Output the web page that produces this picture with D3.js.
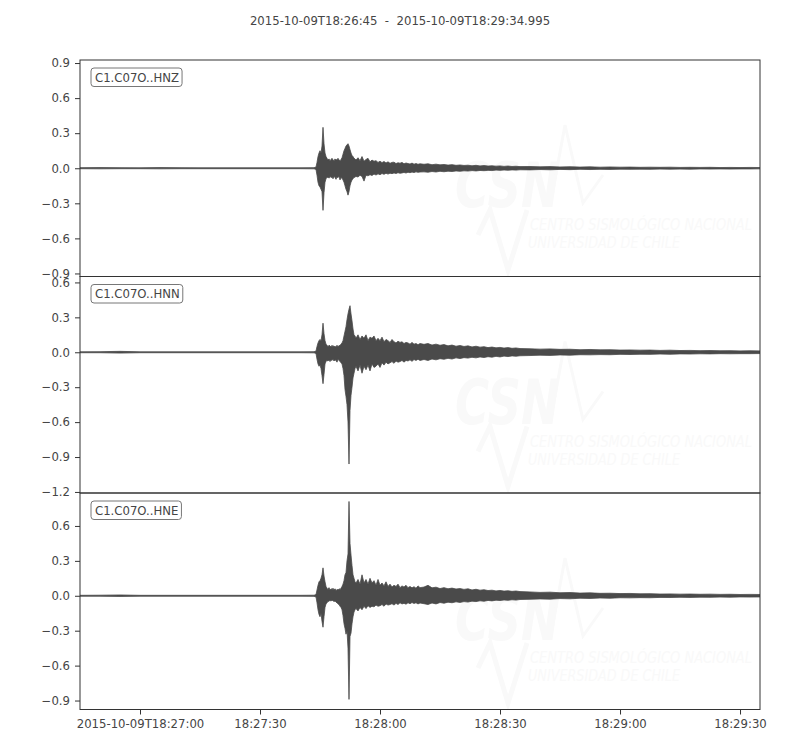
<!DOCTYPE html>
<html>
<head>
<meta charset="utf-8">
<script src="https://cdn.jsdelivr.net/npm/d3@7"></script>
<style>
  body { margin: 0; background: #fff; }
  svg text { font-family: "DejaVu Sans", sans-serif; }
</style>
</head>
<body>
<svg id="chart" width="800" height="750"></svg>
<script>
// ---------------- DATA ----------------
const titleText = "2015-10-09T18:26:45  -  2015-10-09T18:29:34.995";
const startTime = "2015-10-09T18:26:45Z";
const endTime = "2015-10-09T18:29:34.995Z";
const channels = ["C1.C07O..HNZ", "C1.C07O..HNN", "C1.C07O..HNE"];
const yDomains = [[-0.926, 0.926], [-1.209, 0.651], [-0.977, 0.883]];
const yTicks = [
  [-0.9, -0.6, -0.3, 0.0, 0.3, 0.6, 0.9],
  [-1.2, -0.9, -0.6, -0.3, 0.0, 0.3, 0.6],
  [-0.9, -0.6, -0.3, 0.0, 0.3, 0.6]
];
const xTickTimes = ["2015-10-09T18:27:00Z", "2015-10-09T18:27:30Z", "2015-10-09T18:28:00Z",
                    "2015-10-09T18:28:30Z", "2015-10-09T18:29:00Z", "2015-10-09T18:29:30Z"];
const xTickLabels = ["2015-10-09T18:27:00", "18:27:30", "18:28:00", "18:28:30", "18:29:00", "18:29:30"];

// envelope sample times (seconds after start)
const envTime = [
  0, 5, 10, 15, 20, 25, 30, 35, 40, 45, 50, 55, 58.5, 59,
  59.25, 59.5, 59.75, 60, 60.25, 60.5, 60.75, 61, 61.25, 61.5, 61.75, 62, 62.25, 62.5, 62.75, 63, 63.25, 63.5, 63.75, 64,
  64.25, 64.5, 64.75, 65, 65.25, 65.5, 65.75, 66, 66.25, 66.5, 66.75, 67, 67.25, 67.5, 67.75, 68, 68.25, 68.5, 68.75, 69,
  69.5, 70, 70.5, 71, 71.5, 72, 72.5, 73, 73.5, 74, 74.5, 75, 75.5, 76, 76.5, 77, 77.5, 78, 78.5, 79, 79.5, 80,
  80.5, 81, 81.5, 82, 82.5, 83, 83.5, 84, 84.5, 85,
  86, 87, 88, 89, 90, 91, 92, 93, 94, 95, 96, 97, 98, 99, 100, 101, 102, 103, 104, 105, 106, 107, 108, 109, 110,
  112.5, 115, 117.5, 120, 122.5, 125, 127.5, 130, 132.5, 135, 137.5, 140, 142.5, 145, 147.5, 150, 152.5, 155, 157.5,
  160, 162.5, 165, 167.5, 170];

const hnzUpper = [
  0.005, 0.006, 0.005, 0.004, 0.006, 0.005, 0.004, 0.004, 0.004, 0.004, 0.004, 0.004, 0.005, 0.01,
  0.05, 0.10, 0.13, 0.15, 0.13, 0.19, 0.35, 0.21, 0.13, 0.10, 0.085, 0.07, 0.08, 0.065, 0.075, 0.085, 0.07, 0.065, 0.08, 0.07,
  0.075, 0.085, 0.07, 0.065, 0.075, 0.09, 0.12, 0.15, 0.17, 0.19, 0.20, 0.21, 0.19, 0.16, 0.13, 0.11, 0.10, 0.085, 0.08, 0.07,
  0.09, 0.065, 0.10, 0.06, 0.075, 0.085, 0.055, 0.07, 0.06, 0.065, 0.05, 0.06, 0.048, 0.058, 0.045, 0.055, 0.042, 0.05, 0.052, 0.04, 0.047, 0.043,
  0.05, 0.038, 0.045, 0.04, 0.036, 0.044, 0.035, 0.04, 0.034, 0.038,
  0.034, 0.038, 0.03, 0.035, 0.029, 0.032, 0.027, 0.031, 0.025, 0.028, 0.024, 0.026, 0.021, 0.025, 0.02, 0.023, 0.019, 0.021, 0.018, 0.02, 0.016, 0.019, 0.015, 0.017, 0.014,
  0.015, 0.012, 0.014, 0.011, 0.013, 0.01, 0.012, 0.009, 0.011, 0.009, 0.01, 0.008, 0.009, 0.008, 0.009, 0.007, 0.008, 0.007, 0.008,
  0.006, 0.007, 0.006, 0.007, 0.006];
const hnzLower = [
  -0.004, -0.005, -0.004, -0.004, -0.005, -0.004, -0.004, -0.004, -0.004, -0.004, -0.004, -0.004, -0.005, -0.01,
  -0.06, -0.12, -0.15, -0.16, -0.18, -0.20, -0.36, -0.21, -0.12, -0.09, -0.08, -0.075, -0.085, -0.07, -0.08, -0.075, -0.09, -0.07, -0.08, -0.095,
  -0.075, -0.08, -0.07, -0.10, -0.08, -0.085, -0.10, -0.12, -0.15, -0.18, -0.20, -0.23, -0.20, -0.15, -0.12, -0.10, -0.09, -0.08, -0.075, -0.07,
  -0.075, -0.06, -0.07, -0.11, -0.06, -0.065, -0.055, -0.062, -0.05, -0.058, -0.048, -0.055, -0.045, -0.052, -0.043, -0.05, -0.042, -0.046, -0.04, -0.045, -0.038, -0.043,
  -0.04, -0.036, -0.041, -0.034, -0.038, -0.033, -0.037, -0.031, -0.035, -0.032,
  -0.031, -0.034, -0.028, -0.032, -0.026, -0.03, -0.025, -0.028, -0.023, -0.026, -0.022, -0.024, -0.02, -0.023, -0.019, -0.021, -0.018, -0.02, -0.016, -0.018, -0.015, -0.017, -0.014, -0.016, -0.013,
  -0.014, -0.011, -0.013, -0.01, -0.012, -0.009, -0.011, -0.009, -0.01, -0.008, -0.009, -0.008, -0.009, -0.007, -0.008, -0.007, -0.008, -0.006, -0.007,
  -0.006, -0.007, -0.006, -0.006, -0.005];

const hnnUpper = [
  0.004, 0.005, 0.008, 0.004, 0.004, 0.004, 0.004, 0.004, 0.004, 0.004, 0.004, 0.004, 0.005, 0.01,
  0.05, 0.08, 0.10, 0.11, 0.10, 0.15, 0.25, 0.16, 0.10, 0.07, 0.06, 0.05, 0.06, 0.055, 0.045, 0.06, 0.05, 0.055, 0.045, 0.05,
  0.06, 0.05, 0.055, 0.06, 0.07, 0.08, 0.10, 0.14, 0.18, 0.22, 0.28, 0.33, 0.37, 0.40, 0.33, 0.27, 0.20, 0.15, 0.14, 0.12,
  0.15, 0.11, 0.14, 0.12, 0.15, 0.10, 0.13, 0.12, 0.14, 0.10, 0.12, 0.10, 0.13, 0.09, 0.11, 0.10, 0.085, 0.11, 0.09, 0.08, 0.095, 0.085,
  0.09, 0.075, 0.085, 0.08, 0.07, 0.085, 0.07, 0.075, 0.065, 0.075,
  0.068, 0.075, 0.062, 0.07, 0.06, 0.066, 0.055, 0.062, 0.052, 0.058, 0.05, 0.055, 0.046, 0.052, 0.044, 0.048, 0.04, 0.045, 0.038, 0.042, 0.036, 0.04, 0.034, 0.037, 0.032,
  0.03, 0.027, 0.029, 0.025, 0.026, 0.022, 0.024, 0.021, 0.022, 0.019, 0.02, 0.018, 0.019, 0.016, 0.018, 0.015, 0.016, 0.014, 0.015,
  0.013, 0.014, 0.012, 0.013, 0.012];
const hnnLower = [
  -0.004, -0.004, -0.007, -0.004, -0.004, -0.004, -0.004, -0.004, -0.004, -0.004, -0.004, -0.004, -0.005, -0.01,
  -0.06, -0.10, -0.12, -0.11, -0.14, -0.20, -0.27, -0.19, -0.10, -0.08, -0.07, -0.075, -0.065, -0.08, -0.065, -0.07, -0.06, -0.075, -0.065, -0.07,
  -0.085, -0.06, -0.07, -0.08, -0.09, -0.10, -0.14, -0.20, -0.32, -0.38, -0.45, -0.60, -0.96, -0.50, -0.37, -0.30, -0.22, -0.18, -0.14, -0.12,
  -0.16, -0.11, -0.18, -0.12, -0.15, -0.11, -0.16, -0.10, -0.13, -0.12, -0.10, -0.13, -0.09, -0.11, -0.085, -0.10, -0.09, -0.08, -0.095, -0.075, -0.085, -0.08,
  -0.07, -0.085, -0.07, -0.075, -0.065, -0.078, -0.062, -0.07, -0.06, -0.07,
  -0.062, -0.07, -0.058, -0.065, -0.055, -0.06, -0.052, -0.058, -0.048, -0.054, -0.046, -0.05, -0.043, -0.048, -0.04, -0.045, -0.038, -0.042, -0.035, -0.04, -0.033, -0.037, -0.031, -0.034, -0.03,
  -0.028, -0.025, -0.027, -0.023, -0.025, -0.021, -0.022, -0.02, -0.021, -0.018, -0.019, -0.017, -0.018, -0.015, -0.017, -0.014, -0.015, -0.013, -0.014,
  -0.012, -0.013, -0.012, -0.012, -0.011];

const hneUpper = [
  0.004, 0.005, 0.007, 0.004, 0.004, 0.004, 0.004, 0.004, 0.004, 0.004, 0.004, 0.004, 0.005, 0.01,
  0.05, 0.09, 0.12, 0.13, 0.15, 0.18, 0.24, 0.17, 0.12, 0.08, 0.065, 0.055, 0.07, 0.05, 0.06, 0.055, 0.065, 0.05, 0.06, 0.045,
  0.055, 0.05, 0.06, 0.055, 0.065, 0.08, 0.10, 0.13, 0.18, 0.20, 0.30, 0.36, 0.81, 0.45, 0.35, 0.26, 0.18, 0.15, 0.12, 0.11,
  0.14, 0.10, 0.18, 0.11, 0.14, 0.10, 0.15, 0.11, 0.13, 0.09, 0.14, 0.09, 0.11, 0.085, 0.12, 0.08, 0.10, 0.075, 0.09, 0.08, 0.10, 0.07,
  0.085, 0.075, 0.09, 0.07, 0.08, 0.068, 0.078, 0.065, 0.085, 0.07,
  0.075, 0.09, 0.068, 0.074, 0.062, 0.07, 0.06, 0.066, 0.058, 0.062, 0.055, 0.06, 0.05, 0.056, 0.048, 0.052, 0.045, 0.048, 0.042, 0.046, 0.04, 0.043, 0.038, 0.041, 0.036,
  0.033, 0.029, 0.031, 0.026, 0.028, 0.023, 0.025, 0.021, 0.022, 0.019, 0.02, 0.017, 0.018, 0.015, 0.016, 0.014, 0.015, 0.013, 0.014,
  0.012, 0.013, 0.011, 0.012, 0.011];
const hneLower = [
  -0.004, -0.004, -0.006, -0.004, -0.004, -0.004, -0.004, -0.004, -0.004, -0.004, -0.004, -0.004, -0.005, -0.01,
  -0.06, -0.12, -0.16, -0.18, -0.15, -0.22, -0.27, -0.18, -0.10, -0.07, -0.06, -0.05, -0.045, -0.04, -0.045, -0.038, -0.042, -0.05, -0.045, -0.055,
  -0.06, -0.07, -0.075, -0.09, -0.10, -0.12, -0.17, -0.24, -0.28, -0.33, -0.30, -0.45, -0.89, -0.35, -0.32, -0.24, -0.18, -0.14, -0.12, -0.11,
  -0.13, -0.10, -0.12, -0.09, -0.11, -0.085, -0.10, -0.09, -0.095, -0.08, -0.09, -0.085, -0.075, -0.09, -0.07, -0.08, -0.075, -0.068, -0.08, -0.065, -0.075, -0.06,
  -0.07, -0.065, -0.072, -0.06, -0.068, -0.058, -0.066, -0.06, -0.07, -0.062,
  -0.068, -0.075, -0.062, -0.07, -0.058, -0.064, -0.055, -0.06, -0.052, -0.057, -0.05, -0.054, -0.046, -0.05, -0.043, -0.047, -0.04, -0.044, -0.038, -0.041, -0.036, -0.039, -0.034, -0.037, -0.032,
  -0.03, -0.027, -0.029, -0.024, -0.026, -0.021, -0.023, -0.019, -0.021, -0.017, -0.018, -0.016, -0.017, -0.014, -0.015, -0.013, -0.014, -0.012, -0.013,
  -0.011, -0.012, -0.01, -0.011, -0.01];

const uppers = [hnzUpper, hnnUpper, hneUpper];
const lowers = [hnzLower, hnnLower, hneLower];

const watermarkLines = ["CENTRO SISMOLÓGICO NACIONAL", "UNIVERSIDAD DE CHILE"];

// ---------------- LAYOUT ----------------
const W = 800, H = 750;
const left = 80, right = 760;
const panelTops = [60, 276.5, 493];
const panelH = 216.5;
const fs = 11.7;
const textColor = "#454545";
const spineColor = "#333";
const traceColor = "#4a4a4a";
const wmColor = "#f9f9f9";

const svg = d3.select("#chart");
svg.append("rect").attr("width", W).attr("height", H).attr("fill", "#fff");

const t0 = new Date(startTime);
const x = d3.scaleUtc().domain([t0, new Date(endTime)]).range([left, right]);
const toDate = s => new Date(t0.getTime() + s * 1000);

svg.append("text")
  .attr("x", 400).attr("y", 25)
  .attr("text-anchor", "middle")
  .attr("font-size", fs)
  .attr("fill", textColor)
  .style("white-space", "pre")
  .text(titleText);

const defs = svg.append("defs");

channels.forEach((ch, i) => {
  const top = panelTops[i];
  const g = svg.append("g");
  const y = d3.scaleLinear().domain(yDomains[i]).range([top + panelH, top]);

  defs.append("clipPath").attr("id", "clip" + i)
    .append("rect").attr("x", left).attr("y", top).attr("width", right - left).attr("height", panelH);

  // watermark
  const wm = g.append("g").attr("clip-path", `url(#clip${i})`);
  wm.append("text")
    .attr("x", 455).attr("y", top + 147)
    .attr("font-size", 62).attr("font-weight", "bold").attr("font-style", "italic")
    .attr("textLength", 105).attr("lengthAdjust", "spacingAndGlyphs")
    .attr("fill", wmColor)
    .text("CSN");
  wm.append("path")
    .attr("d", `M550,${top + 147} L565,${top + 65} L583,${top + 143} L603,${top + 115}`)
    .attr("fill", "none").attr("stroke", wmColor).attr("stroke-width", 3);
  wm.append("path")
    .attr("d", `M478,${top + 175} L490,${top + 150} L508,${top + 210} L527,${top + 150}`)
    .attr("fill", "none").attr("stroke", wmColor).attr("stroke-width", 5);
  wm.append("text")
    .attr("x", 530).attr("y", top + 170)
    .attr("font-size", 15).attr("font-style", "italic")
    .attr("textLength", 222).attr("lengthAdjust", "spacingAndGlyphs")
    .attr("fill", wmColor)
    .text(watermarkLines[0]);
  wm.append("text")
    .attr("x", 528).attr("y", top + 188)
    .attr("font-size", 15).attr("font-style", "italic")
    .attr("textLength", 152).attr("lengthAdjust", "spacingAndGlyphs")
    .attr("fill", wmColor)
    .text(watermarkLines[1]);

  // trace envelope
  const pts = envTime.map((s, k) => ({ t: toDate(s), hi: uppers[i][k], lo: lowers[i][k] }));
  const area = d3.area()
    .x(d => x(d.t))
    .y0(d => y(d.lo))
    .y1(d => y(d.hi));
  g.append("path")
    .datum(pts)
    .attr("clip-path", `url(#clip${i})`)
    .attr("d", area)
    .attr("fill", traceColor)
    .attr("stroke", traceColor)
    .attr("stroke-width", 0.8)
    .attr("stroke-linejoin", "miter");

  // y axis
  const ya = g.append("g")
    .attr("transform", `translate(${left},0)`)
    .call(d3.axisLeft(y).tickValues(yTicks[i]).tickSize(5).tickPadding(5).tickFormat(d3.format(".1f")));
  ya.select(".domain").remove();
  ya.selectAll("line").attr("stroke", spineColor);
  ya.selectAll("text").attr("font-size", fs).attr("fill", textColor).attr("font-family", "DejaVu Sans");

  // frame
  g.append("rect")
    .attr("x", left).attr("y", top)
    .attr("width", right - left).attr("height", panelH)
    .attr("fill", "none").attr("stroke", spineColor).attr("stroke-width", 1);

  // channel label box
  const lg = g.append("g");
  const lt = lg.append("text")
    .attr("x", 95).attr("y", top + 21.5)
    .attr("font-size", fs).attr("fill", textColor)
    .text(ch);
  const bb = lt.node().getBBox();
  lg.insert("rect", "text")
    .attr("x", bb.x - 4).attr("y", top + 8)
    .attr("width", bb.width + 7).attr("height", 18.5)
    .attr("rx", 3).attr("ry", 3)
    .attr("fill", "#fff").attr("stroke", "#777").attr("stroke-width", 1);

  if (i === channels.length - 1) {
    const xa = g.append("g")
      .attr("transform", `translate(0,${top + panelH})`)
      .call(d3.axisBottom(x).tickValues(xTickTimes.map(s => new Date(s))).tickSize(5).tickPadding(5)
        .tickFormat((d, k) => xTickLabels[k]));
    xa.select(".domain").remove();
    xa.selectAll("line").attr("stroke", spineColor);
    xa.selectAll("text").attr("font-size", fs).attr("fill", textColor).attr("font-family", "DejaVu Sans");
  }
});
</script>
</body>
</html>
